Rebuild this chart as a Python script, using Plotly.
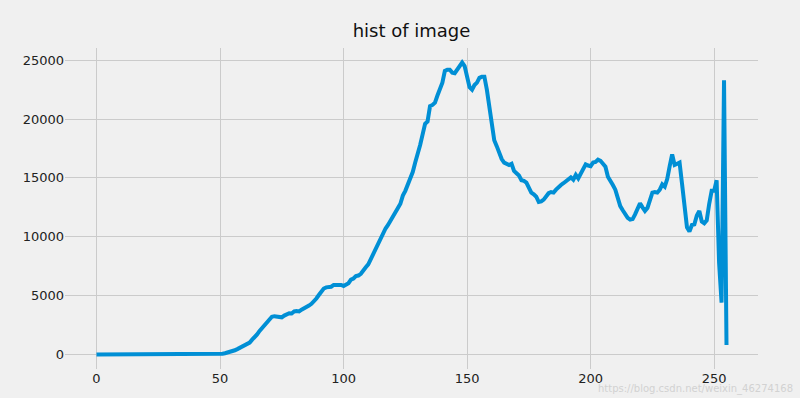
import plotly.graph_objects as go

pixel_values = list(range(256))

counts = (
    [0] * 45 + [10, 10, 15, 20, 30] +
    [40, 60, 100, 150, 200, 280, 350, 450, 570, 700,
     800, 900, 1000, 1250, 1450, 1700, 2000, 2250, 2500, 2750,
     3000, 3200, 3250, 3230, 3180, 3150, 3300, 3450, 3500, 3480,
     3650, 3680, 3650, 3800, 3900, 4050, 4150, 4300, 4500, 4750,
     5050, 5350, 5600, 5700, 5720, 5750, 5900, 5920, 5880, 5900,
     5820, 5950, 6050, 6350, 6450, 6650, 6700, 6850, 7200, 7400,
     7650, 8100, 8400, 8900, 9350, 9800, 10200, 10700, 11000, 11400,
     11800, 12100, 12450, 12800, 13500, 13900, 14400, 15000, 15500, 16300,
     17000, 17800, 18700, 19600, 19800, 21100, 21200, 21400, 22000, 22500,
     23100, 24100, 24200, 24200, 23950, 23900, 24200, 24450, 24800, 24500,
     23700, 22700, 22500, 22900, 23100, 23500, 23600, 23600, 22500, 21000,
     19500, 18200, 17700, 17100, 16600, 16300, 16150, 16100, 16200, 15600,
     15400, 15200, 14800, 14750, 14600, 14100, 13750, 13600, 13400, 12950,
     13000, 13150, 13500, 13700, 13800, 13750, 14000, 14250, 14400, 14550,
     14700, 14900, 15050, 14850, 15250, 14950, 15300, 15800, 16150, 16050,
     16000, 16300, 16350, 16550, 16450, 16200, 15950, 15100, 14800, 14400,
     14000, 13300, 12600, 12250, 11900, 11600, 11450, 11500, 11900, 12500,
     12850, 12500, 12200, 12450, 13000, 13750, 13800, 13750, 14000, 14450,
     14250, 14900, 16000, 17000, 16100, 16200, 16300, 14500, 12500, 10800,
     10450, 11000, 11050, 11800, 12200, 11300, 11150, 11400, 12800, 13900,
     13900, 14800, 7800, 4400, 23300, 800]
)

x_ticks = [0, 50, 100, 150, 200, 250]
x_tick_labels = ["0", "50", "100", "150", "200", "250"]
y_ticks = [0, 5000, 10000, 15000, 20000, 25000]
y_tick_labels = ["0", "5000", "10000", "15000", "20000", "25000"]

fig = go.Figure()
fig.add_trace(go.Scatter(
    x=pixel_values, y=counts, mode="lines",
    line=dict(color="#008fd5", width=4),
    showlegend=False, hoverinfo="skip",
))

fig.update_layout(
    width=800, height=398,
    paper_bgcolor="#f0f0f0", plot_bgcolor="#f0f0f0",
    margin=dict(l=65, r=42, t=48, b=29, autoexpand=False),
    font=dict(family="DejaVu Sans", size=13, color="#222222"),
    title=dict(text="hist of image", x=0.5, xanchor="center", xref="paper",
               y=1, yref="container", yanchor="top", pad=dict(t=24),
               font=dict(size=18, color="#111111")),
    xaxis=dict(range=[-12.75, 267.75], tickvals=x_ticks, ticktext=x_tick_labels,
               showgrid=True, gridcolor="#cbcbcb", gridwidth=1, zeroline=False,
               showline=False, ticks="", ticklen=0),
    yaxis=dict(range=[-1240, 26040], tickvals=y_ticks, ticktext=y_tick_labels,
               showgrid=True, gridcolor="#cbcbcb", gridwidth=1, zeroline=False,
               showline=False, ticks="", ticklen=0),
    annotations=[dict(text="https://blog.csdn.net/weixin_46274168",
                      xref="paper", yref="paper", x=1.053, y=-0.062,
                      xanchor="right", yanchor="middle", showarrow=False,
                      font=dict(size=10, color="#d2d2d2"))],
)

fig.write_html("out.html",
               config={"displayModeBar": False},
               post_script="document.body.style.margin='0';document.body.style.overflow='hidden';")
